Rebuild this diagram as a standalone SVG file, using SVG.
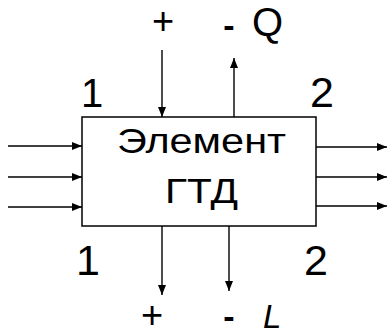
<svg xmlns="http://www.w3.org/2000/svg" width="387" height="336" viewBox="0 0 387 336">
<style>
.t{font-family:"Liberation Sans",Arial,sans-serif;fill:#000}
.c{stroke:#000;stroke-width:1.4;fill:none}
</style>
<defs>
<marker id="a" viewBox="0 0 10 8" refX="10" refY="4" markerWidth="10" markerHeight="8" markerUnits="userSpaceOnUse" orient="auto">
<path d="M0,0 L10,4 L0,8 Z" fill="#000"/>
</marker>
</defs>
<rect width="387" height="336" fill="#fff"/>
<g id="element">
<rect x="82" y="117" width="234" height="109" fill="#fff" stroke="#000" stroke-width="1.5"/>
<text class="t" x="117" y="153" font-size="35" textLength="169" lengthAdjust="spacingAndGlyphs">Элемент</text>
<text class="t" x="165" y="203" font-size="35" textLength="73" lengthAdjust="spacingAndGlyphs">ГТД</text>
</g>
<g id="connectors">
<line class="c" x1="8" y1="146" x2="82" y2="146" marker-end="url(#a)"/>
<line class="c" x1="8" y1="177" x2="82" y2="177" marker-end="url(#a)"/>
<line class="c" x1="8" y1="207" x2="82" y2="207" marker-end="url(#a)"/>
<line class="c" x1="316" y1="147" x2="387" y2="147" marker-end="url(#a)"/>
<line class="c" x1="316" y1="177" x2="387" y2="177" marker-end="url(#a)"/>
<line class="c" x1="316" y1="206" x2="387" y2="206" marker-end="url(#a)"/>
<line class="c" x1="162" y1="50" x2="162" y2="117" marker-end="url(#a)"/>
<line class="c" x1="234" y1="117" x2="234" y2="58" marker-end="url(#a)"/>
<line class="c" x1="162" y1="226" x2="162" y2="295" marker-end="url(#a)"/>
<line class="c" x1="229" y1="226" x2="229" y2="291" marker-end="url(#a)"/>
</g>
<g id="labels">
<text class="t" x="92" y="107" font-size="40" text-anchor="middle">1</text>
<text class="t" x="322" y="107" font-size="43" text-anchor="middle">2</text>
<text class="t" x="88" y="275" font-size="43" text-anchor="middle">1</text>
<text class="t" x="316" y="275" font-size="43" text-anchor="middle">2</text>
<text class="t" x="163" y="34" font-size="38" text-anchor="middle">+</text>
<text class="t" x="229" y="37" font-size="34" text-anchor="middle" font-weight="bold">-</text>
<text class="t" x="252" y="36" font-size="40">Q</text>
<text class="t" x="152" y="328" font-size="38" text-anchor="middle">+</text>
<text class="t" x="229" y="328" font-size="34" text-anchor="middle" font-weight="bold">-</text>
<text class="t" x="263" y="328" font-size="33" font-style="italic">L</text>
</g>
</svg>
